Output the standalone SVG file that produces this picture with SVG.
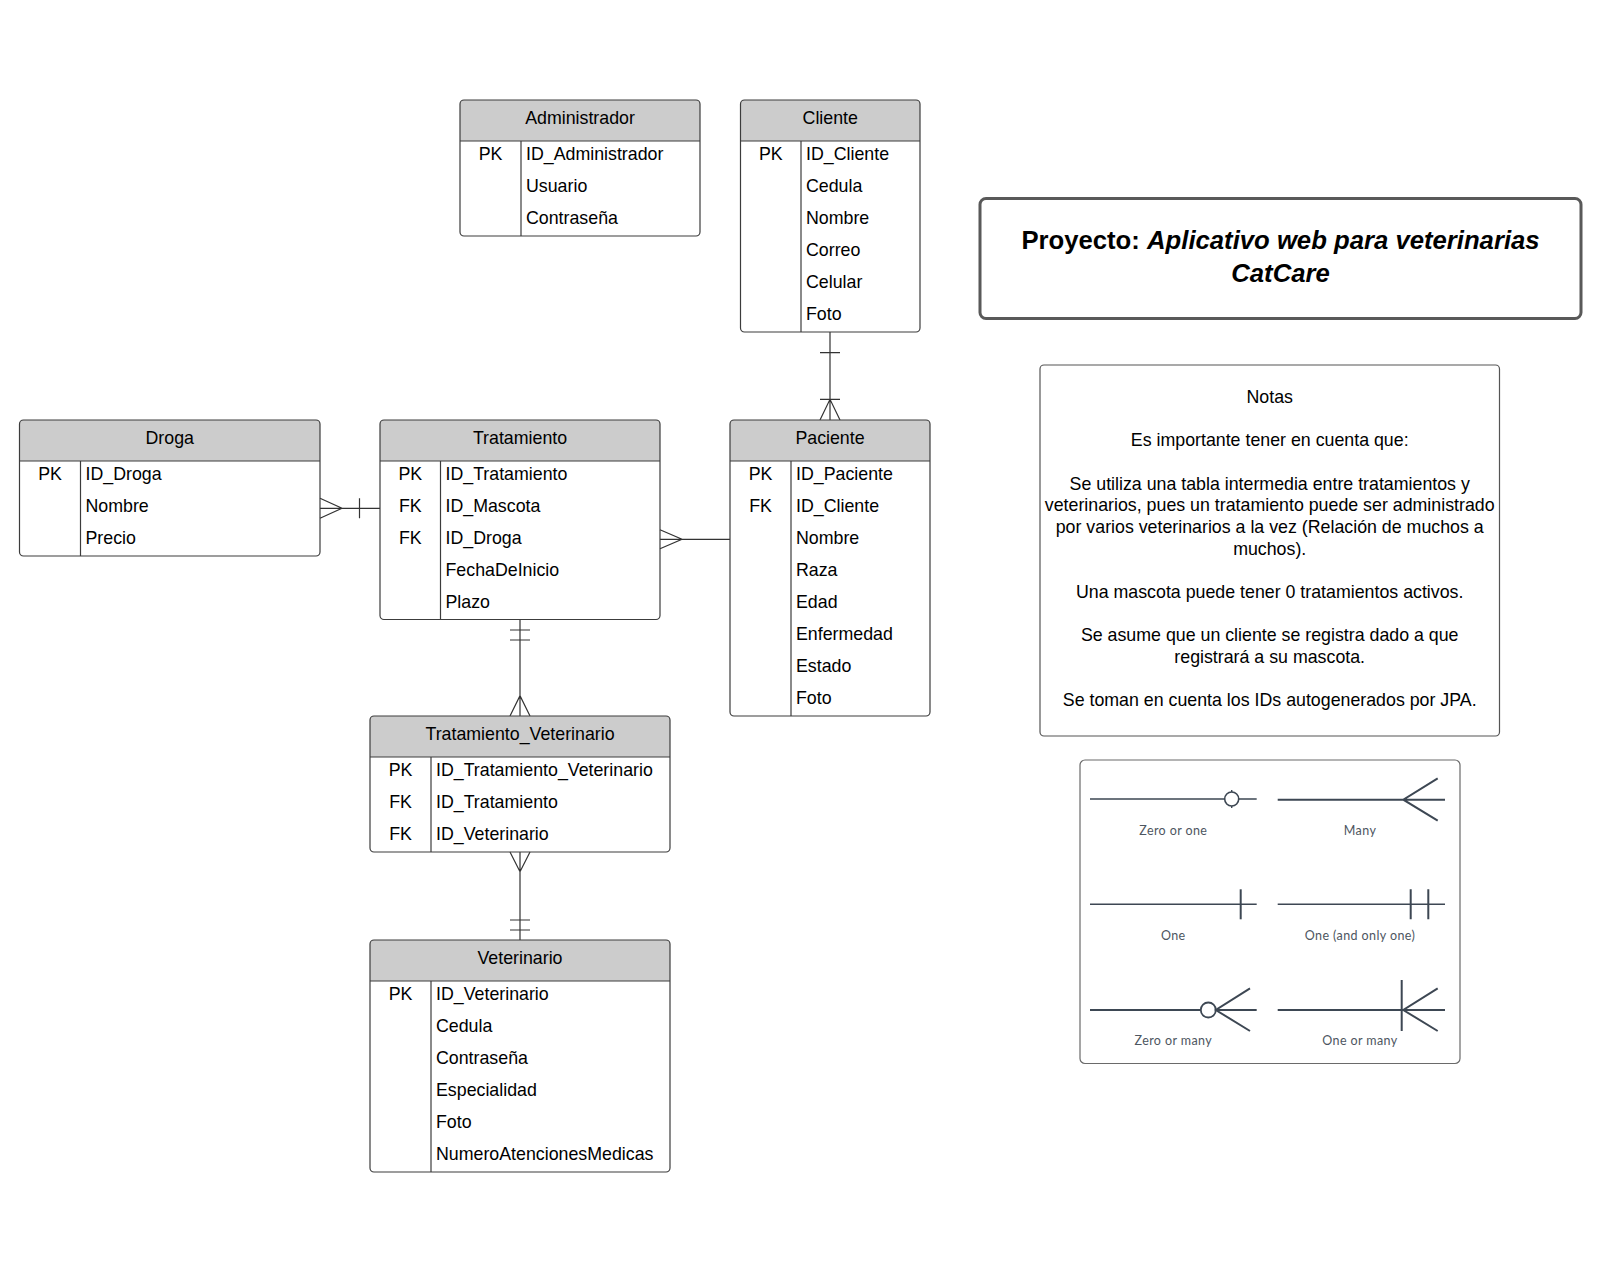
<svg xmlns="http://www.w3.org/2000/svg" width="1599" height="1265" viewBox="0 0 1599 1265">
<style>
.box{fill:none;stroke:#3c3c3c;stroke-width:1.2}
.hdr{fill:#cccccc}
.sep{stroke:#3c3c3c;stroke-width:1.2}
.t{font-family:"Liberation Sans",Arial,sans-serif;font-size:17.8px;fill:#000}
.c{text-anchor:middle}
.ln{stroke:#333;stroke-width:1.2;fill:none}
.lg{stroke:#3d4753;fill:none}
.lt{font-family:Lato,"Noto Sans",sans-serif;font-size:12.5px;fill:#4d5661;text-anchor:middle;letter-spacing:0.4px}
</style>
<rect width="1599" height="1265" fill="#fff"/>

<g id="connectors">
  <path class="ln" d="M320,508.3 H380 M320,498.3 L342,508.3 L320,518.3 M359.5,498.3 V518.3"/>
  <path class="ln" d="M660,539.3 H730 M660,529.8 L682,539.3 L660,548.8"/>
  <path class="ln" d="M830,332 V420 M820,352.7 H840 M820,399.3 H840 M820,420 L830,399.3 L840,420"/>
  <path class="ln" d="M520,619.5 V716 M510,630 H530 M510,640 H530 M510,716 L520,695.7 L530,716"/>
  <path class="ln" d="M520,852 V940 M510,852 L520,871.7 L530,852 M510,920 H530 M510,930 H530"/>
</g>

<g id="administrador">
  <path class="hdr" d="M460,141 V104 Q460,100 464,100 H696 Q700,100 700,104 V141 Z"/>
  <rect class="box" x="460" y="100" width="240" height="136" rx="4"/>
  <line class="sep" x1="460" y1="141" x2="700" y2="141"/>
  <line class="sep" x1="521" y1="141" x2="521" y2="236"/>
  <text class="t c" x="580" y="123.6">Administrador</text>
  <text class="t c" x="490.5" y="159.6">PK</text>
  <text class="t" x="526" y="159.6">ID_Administrador</text>
  <text class="t" x="526" y="191.6">Usuario</text>
  <text class="t" x="526" y="223.6">Contraseña</text>
</g>

<g id="cliente">
  <path class="hdr" d="M740.5,141 V104 Q740.5,100 744.5,100 H916 Q920,100 920,104 V141 Z"/>
  <rect class="box" x="740.5" y="100" width="179.5" height="232" rx="4"/>
  <line class="sep" x1="740.5" y1="141" x2="920" y2="141"/>
  <line class="sep" x1="801" y1="141" x2="801" y2="332"/>
  <text class="t c" x="830.25" y="123.6">Cliente</text>
  <text class="t c" x="770.75" y="159.6">PK</text>
  <text class="t" x="806" y="159.6">ID_Cliente</text>
  <text class="t" x="806" y="191.6">Cedula</text>
  <text class="t" x="806" y="223.6">Nombre</text>
  <text class="t" x="806" y="255.6">Correo</text>
  <text class="t" x="806" y="287.6">Celular</text>
  <text class="t" x="806" y="319.6">Foto</text>
</g>

<g id="droga">
  <path class="hdr" d="M19.5,461 V424 Q19.5,420 23.5,420 H316 Q320,420 320,424 V461 Z"/>
  <rect class="box" x="19.5" y="420" width="300.5" height="136" rx="4"/>
  <line class="sep" x1="19.5" y1="461" x2="320" y2="461"/>
  <line class="sep" x1="80.5" y1="461" x2="80.5" y2="556"/>
  <text class="t c" x="169.75" y="443.6">Droga</text>
  <text class="t c" x="50" y="479.6">PK</text>
  <text class="t" x="85.5" y="479.6">ID_Droga</text>
  <text class="t" x="85.5" y="511.6">Nombre</text>
  <text class="t" x="85.5" y="543.6">Precio</text>
</g>

<g id="tratamiento">
  <path class="hdr" d="M380,461 V424 Q380,420 384,420 H656 Q660,420 660,424 V461 Z"/>
  <rect class="box" x="380" y="420" width="280" height="199.5" rx="4"/>
  <line class="sep" x1="380" y1="461" x2="660" y2="461"/>
  <line class="sep" x1="440.5" y1="461" x2="440.5" y2="619.5"/>
  <text class="t c" x="520" y="443.6">Tratamiento</text>
  <text class="t c" x="410.25" y="479.6">PK</text>
  <text class="t c" x="410.25" y="511.6">FK</text>
  <text class="t c" x="410.25" y="543.6">FK</text>
  <text class="t" x="445.5" y="479.6">ID_Tratamiento</text>
  <text class="t" x="445.5" y="511.6">ID_Mascota</text>
  <text class="t" x="445.5" y="543.6">ID_Droga</text>
  <text class="t" x="445.5" y="575.6">FechaDeInicio</text>
  <text class="t" x="445.5" y="607.6">Plazo</text>
</g>

<g id="paciente">
  <path class="hdr" d="M730,461 V424 Q730,420 734,420 H926 Q930,420 930,424 V461 Z"/>
  <rect class="box" x="730" y="420" width="200" height="296" rx="4"/>
  <line class="sep" x1="730" y1="461" x2="930" y2="461"/>
  <line class="sep" x1="791" y1="461" x2="791" y2="716"/>
  <text class="t c" x="830" y="443.6">Paciente</text>
  <text class="t c" x="760.5" y="479.6">PK</text>
  <text class="t c" x="760.5" y="511.6">FK</text>
  <text class="t" x="796" y="479.6">ID_Paciente</text>
  <text class="t" x="796" y="511.6">ID_Cliente</text>
  <text class="t" x="796" y="543.6">Nombre</text>
  <text class="t" x="796" y="575.6">Raza</text>
  <text class="t" x="796" y="607.6">Edad</text>
  <text class="t" x="796" y="639.6">Enfermedad</text>
  <text class="t" x="796" y="671.6">Estado</text>
  <text class="t" x="796" y="703.6">Foto</text>
</g>

<g id="tratamiento_veterinario">
  <path class="hdr" d="M370,757 V720 Q370,716 374,716 H666 Q670,716 670,720 V757 Z"/>
  <rect class="box" x="370" y="716" width="300" height="136" rx="4"/>
  <line class="sep" x1="370" y1="757" x2="670" y2="757"/>
  <line class="sep" x1="431" y1="757" x2="431" y2="852"/>
  <text class="t c" x="520" y="739.6">Tratamiento_Veterinario</text>
  <text class="t c" x="400.5" y="775.6">PK</text>
  <text class="t c" x="400.5" y="807.6">FK</text>
  <text class="t c" x="400.5" y="839.6">FK</text>
  <text class="t" x="436" y="775.6">ID_Tratamiento_Veterinario</text>
  <text class="t" x="436" y="807.6">ID_Tratamiento</text>
  <text class="t" x="436" y="839.6">ID_Veterinario</text>
</g>

<g id="veterinario">
  <path class="hdr" d="M370,981 V944 Q370,940 374,940 H666 Q670,940 670,944 V981 Z"/>
  <rect class="box" x="370" y="940" width="300" height="232" rx="4"/>
  <line class="sep" x1="370" y1="981" x2="670" y2="981"/>
  <line class="sep" x1="431" y1="981" x2="431" y2="1172"/>
  <text class="t c" x="520" y="963.6">Veterinario</text>
  <text class="t c" x="400.5" y="999.6">PK</text>
  <text class="t" x="436" y="999.6">ID_Veterinario</text>
  <text class="t" x="436" y="1031.6">Cedula</text>
  <text class="t" x="436" y="1063.6">Contraseña</text>
  <text class="t" x="436" y="1095.6">Especialidad</text>
  <text class="t" x="436" y="1127.6">Foto</text>
  <text class="t" x="436" y="1159.6">NumeroAtencionesMedicas</text>
</g>

<g id="titulo">
  <rect x="980" y="198.5" width="601" height="120" rx="6" fill="#fff" stroke="#595959" stroke-width="3"/>
  <text class="c" x="1280.5" y="249" font-family="'Liberation Sans',Arial,sans-serif" font-size="25.7" font-weight="bold" fill="#000">Proyecto: <tspan font-style="italic">Aplicativo web para veterinarias</tspan></text>
  <text class="c" x="1280.5" y="281.5" font-family="'Liberation Sans',Arial,sans-serif" font-size="25.7" font-weight="bold" font-style="italic" fill="#000">CatCare</text>
</g>

<g id="notas">
  <rect x="1040" y="365" width="459.5" height="371" rx="4" fill="#fff" stroke="#555" stroke-width="1.2"/>
  <text class="t c" x="1269.7" y="403">Notas</text>
  <text class="t c" x="1269.7" y="446.3">Es importante tener en cuenta que:</text>
  <text class="t c" x="1269.7" y="489.6">Se utiliza una tabla intermedia entre tratamientos y</text>
  <text class="t c" x="1269.7" y="511.3">veterinarios, pues un tratamiento puede ser administrado</text>
  <text class="t c" x="1269.7" y="533">por varios veterinarios a la vez (Relación de muchos a</text>
  <text class="t c" x="1269.7" y="554.6">muchos).</text>
  <text class="t c" x="1269.7" y="598">Una mascota puede tener 0 tratamientos activos.</text>
  <text class="t c" x="1269.7" y="641.3">Se asume que un cliente se registra dado a que</text>
  <text class="t c" x="1269.7" y="663">registrará a su mascota.</text>
  <text class="t c" x="1269.7" y="706.3">Se toman en cuenta los IDs autogenerados por JPA.</text>
</g>

<g id="leyenda">
  <rect x="1080" y="760" width="380" height="303.5" rx="5" fill="#fff" stroke="#6a6a6a" stroke-width="1.2"/>
  <path class="lg" stroke-width="1.4" d="M1090,799 H1224.7 M1238.7,799 H1256.7 M1231.7,790 V792 M1231.7,806 V808"/>
  <circle class="lg" stroke-width="1.6" cx="1231.7" cy="799" r="7"/>
  <text class="lt" x="1173.3" y="834.5">Zero or one</text>
  <path class="lg" stroke-width="2" d="M1277.7,799.7 H1445 M1437.7,778.3 L1403.3,799.7 L1437.7,820.7"/>
  <text class="lt" x="1360" y="834.5">Many</text>
  <path class="lg" stroke-width="1.4" d="M1090,904.3 H1256.7"/>
  <path class="lg" stroke-width="2" d="M1240.7,889.3 V919.3"/>
  <text class="lt" x="1173.3" y="939.5">One</text>
  <path class="lg" stroke-width="1.4" d="M1277.7,904.3 H1445"/>
  <path class="lg" stroke-width="2" d="M1410.7,889.3 V919.3 M1428.3,889.3 V919.3"/>
  <text class="lt" x="1360" y="939.5">One (and only one)</text>
  <path class="lg" stroke-width="2" d="M1090,1010 H1200.8 M1215.8,1010 H1256.7 M1250,988.3 L1215.8,1010 L1250,1031"/>
  <circle class="lg" stroke-width="1.8" cx="1208.3" cy="1010" r="7.5"/>
  <text class="lt" x="1173.3" y="1044.5">Zero or many</text>
  <path class="lg" stroke-width="2" d="M1277.7,1010 H1445 M1437.7,988.3 L1403.3,1010 L1437.7,1031 M1401.7,980 V1031"/>
  <text class="lt" x="1360" y="1044.5">One or many</text>
</g>
</svg>
